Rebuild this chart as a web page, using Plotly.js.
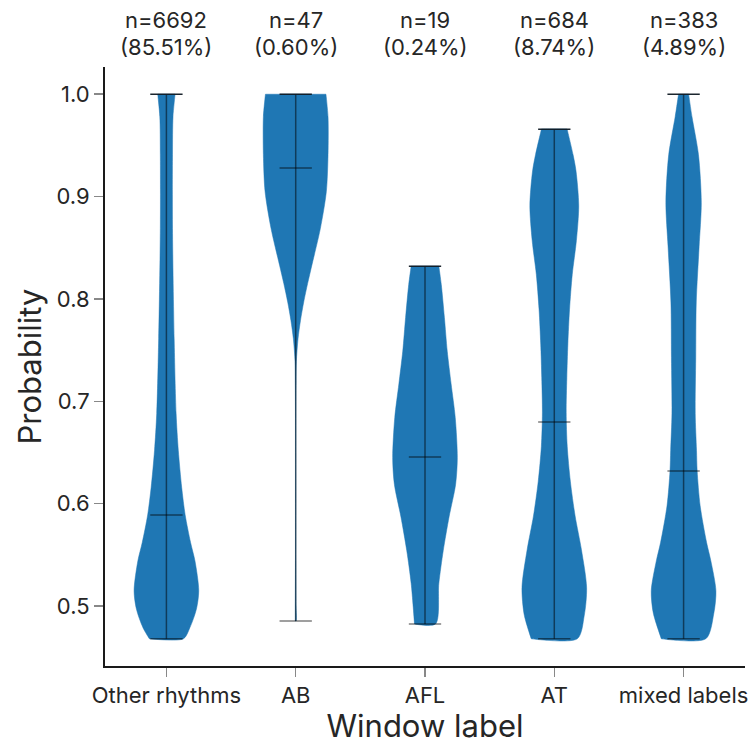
<!DOCTYPE html>
<html><head><meta charset="utf-8">
<script src="https://cdn.plot.ly/plotly-3.0.1.min.js"></script>
<style>html,body{margin:0;padding:0;background:#fff}</style>
</head><body><div id="chart" style="width:752px;height:744px"></div>
<script>
const categories = ['Other rhythms', 'AB', 'AFL', 'AT', 'mixed labels'];
const counts = [6692, 47, 19, 684, 383];
const percents = ['85.51%', '0.60%', '0.24%', '8.74%', '4.89%'];
const minima = [0.468, 0.4854, 0.4824, 0.468, 0.468];
const maxima = [1.0, 1.0, 0.832, 0.9658, 1.0];
const medians = [0.589, 0.928, 0.6455, 0.6797, 0.632];

// relative density profiles (peak = 1)
const levelsOther = [0.468, 0.479, 0.497, 0.515, 0.544, 0.562, 0.589, 0.616, 0.652, 0.688, 0.761, 0.869, 0.941, 0.978, 1.0];
const densityOther = [0.528, 0.728, 0.928, 1.0, 0.884, 0.748, 0.58, 0.472, 0.368, 0.30, 0.24, 0.188, 0.188, 0.204, 0.268];

const levelsAB = [0.4854, 0.50, 0.55, 0.60, 0.65, 0.70, 0.72, 0.739, 0.761, 0.779, 0.797, 0.815, 0.833, 0.869, 0.905, 0.941, 0.978, 1.0];
const densityAB = [0.012, 0.012, 0.006, 0.004, 0.004, 0.008, 0.012, 0.02, 0.072, 0.148, 0.248, 0.368, 0.5, 0.764, 0.948, 1.0, 1.0, 0.936];

const levelsAFL = [0.4824, 0.522, 0.554, 0.587, 0.619, 0.645, 0.684, 0.717, 0.749, 0.782, 0.814, 0.832];
const densityAFL = [0.324, 0.428, 0.564, 0.744, 0.948, 1.0, 0.936, 0.808, 0.688, 0.6, 0.504, 0.428];

const levelsAT = [0.468, 0.491, 0.518, 0.555, 0.588, 0.622, 0.656, 0.689, 0.723, 0.756, 0.790, 0.824, 0.857, 0.891, 0.925, 0.941, 0.966];
const densityAT = [0.712, 0.928, 1.0, 0.84, 0.644, 0.496, 0.4, 0.368, 0.388, 0.42, 0.472, 0.556, 0.684, 0.756, 0.672, 0.58, 0.396];

const levelsMixed = [0.468, 0.493, 0.515, 0.544, 0.562, 0.598, 0.632, 0.652, 0.688, 0.743, 0.797, 0.851, 0.894, 0.941, 0.978, 1.0];
const densityMixed = [0.688, 0.936, 1.0, 0.844, 0.712, 0.512, 0.42, 0.40, 0.36, 0.376, 0.392, 0.48, 0.548, 0.46, 0.26, 0.156];

const profiles = [
  [levelsOther, densityOther],
  [levelsAB, densityAB],
  [levelsAFL, densityAFL],
  [levelsAT, densityAT],
  [levelsMixed, densityMixed]
];

const FONT = 'Inter, "Liberation Sans", Arial, sans-serif';
const HALF = 0.25;   // half of violin width
const BAR = 0.125;   // half length of min/max/median bars
const positions = categories.map((_, i) => i + 1);

const traces = [];
profiles.forEach(([lv, dn], i) => {
  const p = positions[i];
  const n = lv.length;
  const xs = [], ys = [];
  // right side, bottom -> top (top corner doubled to keep it sharp)
  for (let k = 0; k < n; k++) { xs.push(p + HALF * dn[k]); ys.push(lv[k]); }
  xs.push(p + HALF * dn[n - 1]); ys.push(lv[n - 1]);
  // left side, top -> bottom (corners doubled)
  xs.push(p - HALF * dn[n - 1]); ys.push(lv[n - 1]);
  for (let k = n - 1; k >= 0; k--) { xs.push(p - HALF * dn[k]); ys.push(lv[k]); }
  xs.push(p - HALF * dn[0]); ys.push(lv[0]);
  xs.push(p + HALF * dn[0]); ys.push(lv[0]);
  traces.push({
    type: 'scatter', mode: 'lines', x: xs, y: ys, fill: 'toself',
    fillcolor: '#1f77b4',
    line: {color: '#1f77b4', width: 0.5, shape: 'spline', smoothing: 0.8, simplify: false},
    hoverinfo: 'skip', showlegend: false
  });
});

function barTrace(vals, color, width) {
  const x = [], y = [];
  vals.forEach((v, i) => { x.push(positions[i] - BAR, positions[i] + BAR, null); y.push(v, v, null); });
  return {type: 'scatter', mode: 'lines', x, y, line: {color, width}, hoverinfo: 'skip', showlegend: false};
}
const vx = [], vy = [];
positions.forEach((p, i) => { vx.push(p, p, null); vy.push(minima[i], maxima[i], null); });
traces.push({type: 'scatter', mode: 'lines', x: vx, y: vy, line: {color: 'rgba(0,0,0,0.5)', width: 1.5}, hoverinfo: 'skip', showlegend: false});
traces.push(barTrace(minima, 'rgba(0,0,0,0.5)', 1.5));
traces.push(barTrace(medians, 'rgba(0,0,0,0.5)', 1.5));
traces.push(barTrace(maxima, 'rgba(15,25,35,0.95)', 1.5));

const annotations = [];
positions.forEach((p, i) => {
  annotations.push({x: p, xref: 'x', y: 1, yref: 'paper', yanchor: 'middle', yshift: 47, showarrow: false,
    text: 'n=' + counts[i], font: {family: FONT, size: 22, color: '#262626'}});
  annotations.push({x: p, xref: 'x', y: 1, yref: 'paper', yanchor: 'middle', yshift: 20, showarrow: false,
    text: '(' + percents[i] + ')', font: {family: FONT, size: 22, color: '#262626'}});
});

const layout = {
  width: 752, height: 744,
  margin: {l: 105, r: 7, t: 67, b: 78},
  paper_bgcolor: '#fff', plot_bgcolor: '#fff',
  font: {family: FONT, size: 22, color: '#262626'},
  xaxis: {
    range: [0.525, 5.475], tickvals: positions, ticktext: categories,
    showgrid: false, zeroline: false, showline: true, linecolor: '#1a1a1a', linewidth: 2,
    ticks: 'outside', ticklen: 9, tickwidth: 1.5, tickcolor: '#888',
    tickfont: {family: FONT, size: 22, color: '#262626'},
    title: {text: 'Window label', font: {family: FONT, size: 31, color: '#262626'}, standoff: 8}
  },
  yaxis: {
    range: [0.4414, 1.0266], tickvals: [0.5, 0.6, 0.7, 0.8, 0.9, 1.0], ticktext: ['0.5', '0.6', '0.7', '0.8', '0.9', '1.0'],
    showgrid: false, zeroline: false, showline: true, linecolor: '#1a1a1a', linewidth: 2,
    ticks: 'outside', ticklen: 9, tickwidth: 1.5, tickcolor: '#888',
    tickfont: {family: FONT, size: 22, color: '#262626'},
    title: {text: 'Probability', font: {family: FONT, size: 31, color: '#262626'}, standoff: 6}
  },
  annotations
};

Plotly.newPlot('chart', traces, layout, {displayModeBar: false, staticPlot: true});
</script>
</body></html>
